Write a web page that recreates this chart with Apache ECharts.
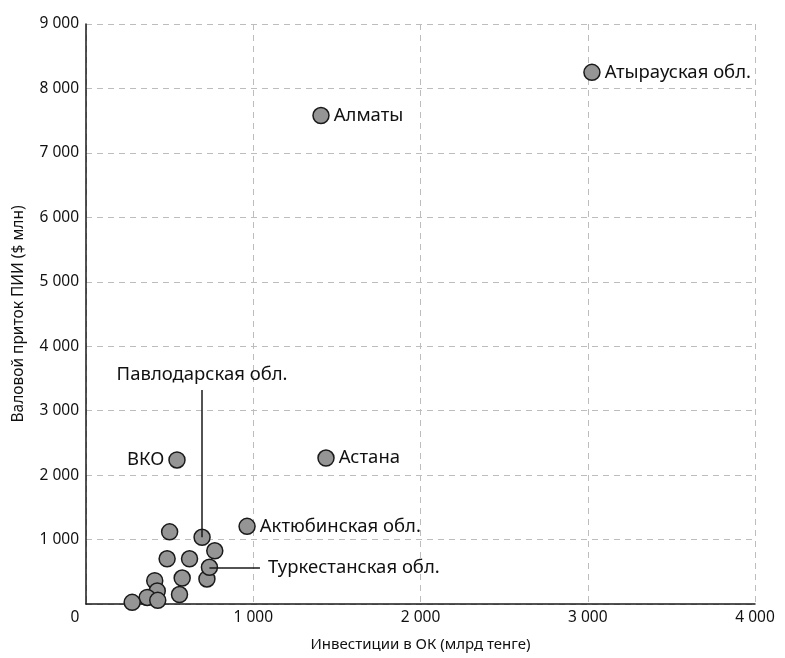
<!DOCTYPE html>
<html>
<head>
<meta charset="utf-8">
<script src="https://cdn.jsdelivr.net/npm/echarts@6/dist/echarts.min.js"></script>
<style>html,body{margin:0;padding:0;background:#fff}#c{width:785px;height:658px}</style>
</head>
<body>
<div id="c"></div>
<script>
// Named regions: [investment (bn tenge), FDI inflow ($ mn)]
const namedNames = ['Атырауская обл.', 'Алматы', 'Астана', 'ВКО', 'Актюбинская обл.', 'Павлодарская обл.', 'Туркестанская обл.'];
const namedX = [3025, 1405, 1435, 544, 963, 694, 738];
const namedY = [8250, 7580, 2265, 2235, 1205, 1035, 570];
// label side for each named region ('right', 'left', or '' for leader-line labels)
const namedLabelPos = ['right', 'right', 'right', 'left', 'right', '', ''];
// Other (unlabelled) regions
const otherX = [500, 770, 485, 619, 723, 575, 411, 426, 559, 366, 429, 276];
const otherY = [1120, 826, 702, 702, 388, 403, 361, 202, 147, 101, 57, 26];
// Leader-line end points (annotation anchors)
const pavlodarLeaderEndY = 3320;
const turkestanLeaderEndX = 1040;
// Axis ticks
const xTicks = [0, 1000, 2000, 3000, 4000];
const yTicks = [0, 1000, 2000, 3000, 4000, 5000, 6000, 7000, 8000, 9000];

const FONT = 'Noto Sans';
const TXT = '#111111';
const fmt = v => String(v).replace(/\B(?=(\d{3})+(?!\d))/g, ' ');

const pointStyle = { color: '#959595', borderColor: '#1a1a1a', borderWidth: 1.5, opacity: 1 };
const labelFont = { fontFamily: FONT, fontSize: 18.5, color: TXT, fontWeight: 'normal', opacity: 1 };

const namedData = namedNames.map((n, i) => {
  const item = { name: n, value: [namedX[i], namedY[i]] };
  if (namedLabelPos[i]) {
    item.label = Object.assign({ show: true, position: namedLabelPos[i], distance: 4 }, labelFont);
  } else {
    item.label = { show: false };
  }
  return item;
});
const otherData = otherX.map((x, i) => [x, otherY[i]]);

const pv = namedNames.indexOf('Павлодарская обл.');
const tk = namedNames.indexOf('Туркестанская обл.');

const chart = echarts.init(document.getElementById('c'), null, { renderer: 'canvas' });
chart.setOption({
  animation: false,
  backgroundColor: '#fff',
  textStyle: { fontFamily: FONT },
  grid: { left: 86, right: 30, top: 24, bottom: 54, containLabel: false },
  xAxis: {
    type: 'value', min: xTicks[0], max: xTicks[xTicks.length - 1], interval: 1000,
    name: 'Инвестиции в ОК (млрд тенге)', nameLocation: 'middle', nameGap: 33,
    nameTextStyle: { fontFamily: FONT, fontSize: 15, color: TXT },
    axisLine: { show: true, lineStyle: { color: '#1a1a1a', width: 1.5 } },
    axisTick: { show: false },
    axisLabel: {
      margin: 6, fontFamily: FONT, fontSize: 15.5, color: TXT,
      formatter: v => v === 0 ? '{z|0}' : fmt(v),
      rich: { z: { fontFamily: FONT, fontSize: 15.5, color: TXT, padding: [0, 22, 0, 0] } }
    },
    splitLine: { show: true, lineStyle: { color: '#bdbdbd', type: [6, 5], width: 1 } }
  },
  yAxis: {
    type: 'value', min: yTicks[0], max: yTicks[yTicks.length - 1], interval: 1000,
    name: 'Валовой приток ПИИ ($ млн)', nameLocation: 'middle', nameGap: 59,
    nameTextStyle: { fontFamily: FONT, fontSize: 15.5, color: TXT },
    axisLine: { show: true, lineStyle: { color: '#1a1a1a', width: 1.5 } },
    axisTick: { show: false },
    axisLabel: { margin: 7, fontFamily: FONT, fontSize: 15.5, color: TXT, showMinLabel: false,
      formatter: v => v === 0 ? '' : fmt(v) },
    splitLine: { show: true, lineStyle: { color: '#bdbdbd', type: [6, 5], width: 1 } }
  },
  series: [
    {
      type: 'line', z: 1, data: [], symbol: 'none',
      markLine: {
        silent: true, symbol: 'none', animation: false,
        lineStyle: { color: '#1a1a1a', width: 1.5, type: 'solid' },
        label: Object.assign({ show: true, position: 'end', distance: 6, formatter: p => p.name }, labelFont),
        data: [
          [ { name: namedNames[pv], coord: [namedX[pv], namedY[pv]] }, { coord: [namedX[pv], pavlodarLeaderEndY] } ],
          [ { name: namedNames[tk], coord: [namedX[tk], namedY[tk]], label: { distance: 8 } }, { coord: [turkestanLeaderEndX, namedY[tk]] } ]
        ]
      }
    },
    {
      type: 'scatter', z: 3, symbol: 'circle', symbolSize: 16,
      itemStyle: pointStyle,
      data: otherData
    },
    {
      type: 'scatter', z: 4, symbol: 'circle', symbolSize: 16,
      itemStyle: pointStyle,
      label: Object.assign({ formatter: p => p.name }, labelFont),
      data: namedData
    }
  ]
});
</script>
</body>
</html>
